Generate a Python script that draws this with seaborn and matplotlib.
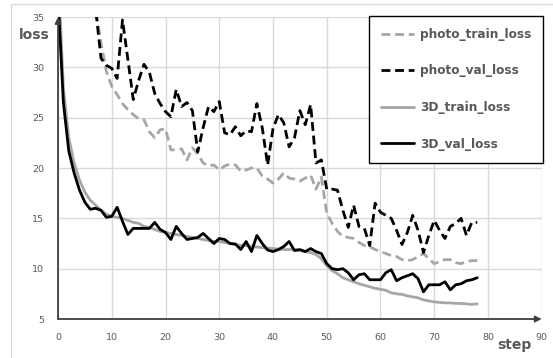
import numpy as np
import matplotlib
matplotlib.use("Agg")
import matplotlib.pyplot as plt
import seaborn as sns
from matplotlib.patches import Rectangle

# data
steps = list(range(79))
nan = np.nan

photo_train_loss = [nan, nan, nan, nan, nan, nan, 40.0, 35.8, 32.4, 29.6,
                    28.1, 27.3, 26.4, 25.8, 25.3, 24.9, 24.8, 23.6, 23.0, 23.8,
                    23.9, 21.8, 21.8, 21.9, 20.8, 22.0, 21.4, 20.5, 20.2, 20.3,
                    19.8, 20.2, 20.4, 20.3, 19.7, 19.8, 20.0, 20.0, 19.2, 18.9,
                    18.5, 18.9, 19.5, 19.0, 18.9, 18.7, 19.0, 19.3, 17.9, 19.1,
                    15.5, 14.5, 13.7, 13.2, 13.1, 13.0, 12.6, 12.3, 12.2, 11.9,
                    11.7, 11.5, 11.3, 11.2, 10.9, 10.8, 10.9, 11.2, 11.5, 11.0,
                    10.5, 10.7, 10.9, 10.9, 10.6, 10.5, 10.7, 10.8, 10.8]

photo_val_loss = [nan, nan, nan, nan, nan, nan, 38.5, 35.8, 30.9, 30.2,
                  29.9, 28.9, 34.7, 30.8, 26.8, 28.7, 30.3, 29.5, 27.4, 26.4,
                  25.6, 25.1, 27.8, 26.1, 26.5, 25.7, 21.6, 24.0, 26.1, 25.6,
                  26.6, 23.5, 23.3, 24.1, 23.2, 23.7, 23.6, 26.4, 24.0, 20.3,
                  23.9, 25.3, 24.5, 22.1, 23.0, 25.7, 24.3, 26.3, 20.5, 20.8,
                  17.9, 17.9, 17.8, 15.8, 14.1, 16.3, 14.2, 14.0, 12.3, 16.5,
                  15.6, 15.3, 15.0, 13.8, 12.4, 13.6, 15.3, 13.8, 11.6, 13.3,
                  14.8, 13.8, 13.0, 14.2, 14.5, 15.0, 13.3, 14.6, 14.6]

train_3d_loss = [40.0, 28.0, 23.0, 20.5, 18.8, 17.6, 16.8, 16.3, 15.8, 15.4,
                 15.2, 15.1, 15.0, 14.8, 14.6, 14.5, 14.2, 14.1, 13.9, 13.7,
                 13.6, 13.5, 13.4, 13.3, 13.2, 13.1, 13.0, 12.9, 12.8, 12.7,
                 12.7, 12.6, 12.5, 12.4, 12.3, 12.3, 12.2, 12.15, 12.1, 12.05,
                 12.0, 11.95, 11.9, 11.9, 11.9, 11.8, 11.7, 11.6, 11.4, 11.0,
                 10.3, 9.8, 9.5, 9.1, 8.9, 8.7, 8.5, 8.35, 8.2, 8.05,
                 7.95, 7.85, 7.6, 7.5, 7.45, 7.3, 7.2, 7.1, 6.9, 6.8,
                 6.7, 6.65, 6.6, 6.6, 6.55, 6.55, 6.5, 6.45, 6.5]

val_3d_loss = [37.0, 26.5, 21.7, 19.5, 17.8, 16.6, 15.9, 16.0, 15.8, 15.1,
               15.2, 16.1, 14.7, 13.4, 14.0, 14.0, 14.0, 14.0, 14.6, 13.9,
               13.6, 12.9, 14.2, 13.5, 12.9, 13.0, 13.1, 13.5, 13.0, 12.5,
               13.0, 12.9, 12.5, 12.45, 11.9, 12.7, 11.7, 13.3, 12.5, 11.85,
               11.7, 11.9, 12.2, 12.7, 11.8, 11.9, 11.7, 12.0, 11.7, 11.5,
               10.5, 10.0, 9.9, 10.0, 9.6, 8.9, 9.4, 9.5, 8.9, 8.9,
               8.9, 9.6, 9.9, 8.8, 9.1, 9.3, 9.5, 9.0, 7.7, 8.4,
               8.4, 8.4, 8.7, 7.9, 8.4, 8.5, 8.8, 8.9, 9.1]

x_ticks = [0, 10, 20, 30, 40, 50, 60, 70, 80, 90]
y_ticks = [5, 10, 15, 20, 25, 30, 35]

sns.set_theme(style="white")
plt.rcParams['font.family'] = ['DejaVu Sans']

GRAY = "#a6a6a6"
TXT = "#595959"
dash = (0, (3.2, 1.7))

fig = plt.figure(figsize=(5.53, 3.58), dpi=100)
ax = fig.add_axes([0.1049, 0.1089, 0.8747, 0.8436])

# chart area frame
fig.patches.append(Rectangle((0.019, -0.2), 1.2, 1.189, transform=fig.transFigure,
                             fill=False, edgecolor="#d9d9d9", linewidth=1))

sns.lineplot(x=steps, y=photo_train_loss, ax=ax, color=GRAY, linewidth=2.0,
             linestyle=dash, label="photo_train_loss")
sns.lineplot(x=steps, y=photo_val_loss, ax=ax, color="black", linewidth=2.0,
             linestyle=dash, label="photo_val_loss")
sns.lineplot(x=steps, y=train_3d_loss, ax=ax, color=GRAY, linewidth=2.0,
             label="3D_train_loss")
sns.lineplot(x=steps, y=val_3d_loss, ax=ax, color="black", linewidth=2.0,
             label="3D_val_loss")

ax.set_xlim(0, 90)
ax.set_ylim(5, 35)
ax.set_xticks(x_ticks)
ax.set_yticks(y_ticks)
ax.grid(True, color="#d9d9d9", linewidth=1)
ax.set_axisbelow(True)
ax.tick_params(axis="both", length=0, pad=10, labelsize=6.8, labelcolor=TXT)

for s in ["top", "right", "left", "bottom"]:
    ax.spines[s].set_visible(False)

# axes with arrow heads
ax.annotate("", xy=(0, 1.0), xytext=(0, 0), xycoords="axes fraction",
            arrowprops=dict(arrowstyle="-|>", color="#404040", lw=1.3,
                            mutation_scale=9, shrinkA=0, shrinkB=0))
ax.annotate("", xy=(1.0, 0), xytext=(0, 0), xycoords="axes fraction",
            arrowprops=dict(arrowstyle="-|>", color="#404040", lw=1.3,
                            mutation_scale=9, shrinkA=0, shrinkB=0))

ax.set_ylabel("loss", rotation=0, fontsize=10, fontweight="bold", color=TXT,
              va="center", ha="center")
ax.yaxis.set_label_coords(-0.05, 0.94)
ax.set_xlabel("step", fontsize=10, fontweight="bold", color=TXT,
              va="center", ha="center")
ax.xaxis.set_label_coords(0.943, -0.086)

leg = ax.legend(loc="upper right", bbox_to_anchor=(1.003, 1.004), borderaxespad=0,
                fancybox=False, framealpha=1, edgecolor="black",
                prop={"size": 8.7, "weight": "bold"}, handlelength=2.75,
                handletextpad=0.45, labelspacing=1.95, borderpad=1.0)
leg.get_frame().set_linewidth(1.0)
for t in leg.get_texts():
    t.set_color(TXT)

fig.savefig("out.png", dpi=100)
